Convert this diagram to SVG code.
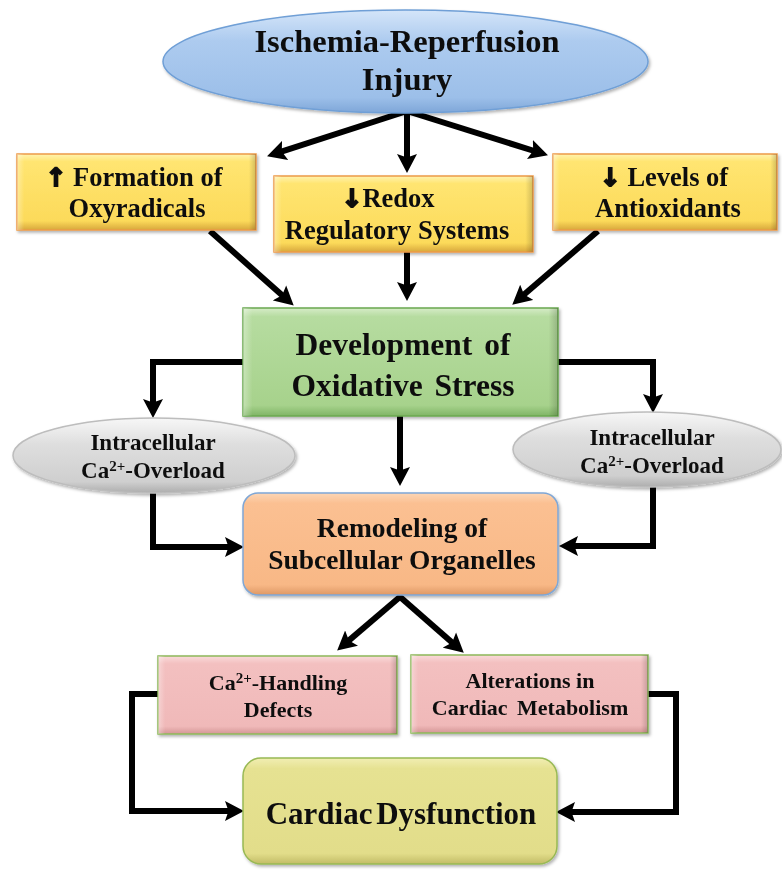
<svg xmlns="http://www.w3.org/2000/svg" width="782" height="870" viewBox="0 0 782 870">
<style>
  text{font-family:"Liberation Serif","Times New Roman",serif;font-weight:bold;fill:#111;text-anchor:middle}
  .arr{font-family:"DejaVu Sans",sans-serif;font-weight:bold;stroke:#111;stroke-width:1.8}
  .c{fill:none;stroke:#000;stroke-width:6;marker-end:url(#ah)}
  .e{fill:none;stroke:#000;stroke-width:6;stroke-linejoin:miter}
  .ov{fill:url(#side)}
</style>
<defs>
  <marker id="ah" viewBox="0 -10.5 19 21" refX="8" refY="0" markerWidth="19" markerHeight="21" markerUnits="userSpaceOnUse" orient="auto">
    <path d="M0,-10 L19,0 L0,10 L3.5,0 Z" fill="#000"/>
  </marker>
  <filter id="sh" x="-10%" y="-10%" width="125%" height="130%">
    <feDropShadow dx="1.5" dy="2" stdDeviation="1.5" flood-color="#000" flood-opacity="0.3"/>
  </filter>
  <linearGradient id="side" x1="0" y1="0" x2="1" y2="0">
    <stop offset="0" stop-color="#fff" stop-opacity="0.35"/>
    <stop offset="0.03" stop-color="#fff" stop-opacity="0"/>
    <stop offset="0.97" stop-color="#000" stop-opacity="0"/>
    <stop offset="1" stop-color="#000" stop-opacity="0.18"/>
  </linearGradient>
  <linearGradient id="gy" x1="0" y1="0" x2="0" y2="1">
    <stop offset="0" stop-color="#fff3b0"/><stop offset="0.1" stop-color="#ffe571"/>
    <stop offset="0.88" stop-color="#fcda5a"/><stop offset="1" stop-color="#d8a83c"/>
  </linearGradient>
  <linearGradient id="gg" x1="0" y1="0" x2="0" y2="1">
    <stop offset="0" stop-color="#d6ecc8"/><stop offset="0.08" stop-color="#b6dca0"/>
    <stop offset="0.9" stop-color="#a7d28c"/><stop offset="1" stop-color="#7fb566"/>
  </linearGradient>
  <linearGradient id="go" x1="0" y1="0" x2="0" y2="1">
    <stop offset="0" stop-color="#fcd6b6"/><stop offset="0.1" stop-color="#fbc092"/>
    <stop offset="0.9" stop-color="#f8b886"/><stop offset="1" stop-color="#de9865"/>
  </linearGradient>
  <linearGradient id="gp" x1="0" y1="0" x2="0" y2="1">
    <stop offset="0" stop-color="#fadada"/><stop offset="0.1" stop-color="#f3c0c0"/>
    <stop offset="0.9" stop-color="#f0b9b9"/><stop offset="1" stop-color="#d49797"/>
  </linearGradient>
  <linearGradient id="gc" x1="0" y1="0" x2="0" y2="1">
    <stop offset="0" stop-color="#f1eeb3"/><stop offset="0.1" stop-color="#e6e292"/>
    <stop offset="0.9" stop-color="#e2dd8a"/><stop offset="1" stop-color="#c2bc66"/>
  </linearGradient>
  <linearGradient id="gb" x1="0" y1="0" x2="0" y2="1">
    <stop offset="0" stop-color="#d4e5f9"/><stop offset="0.3" stop-color="#adcbef"/>
    <stop offset="0.85" stop-color="#9cbfe9"/><stop offset="1" stop-color="#7ea6d8"/>
  </linearGradient>
  <linearGradient id="gs" x1="0" y1="0" x2="0" y2="1">
    <stop offset="0" stop-color="#f7f7f7"/><stop offset="0.35" stop-color="#dedede"/>
    <stop offset="0.85" stop-color="#cfcfcf"/><stop offset="1" stop-color="#adadad"/>
  </linearGradient>
</defs>
<rect width="782" height="870" fill="#fff"/>

<g id="connectors">
  <line class="c" x1="404" y1="112" x2="277.5" y2="152.9"/>
  <line class="c" x1="407" y1="112" x2="407" y2="162"/>
  <line class="c" x1="410" y1="112" x2="537.5" y2="152"/>
  <line class="c" x1="210" y1="231" x2="285.5" y2="298.3"/>
  <line class="c" x1="407" y1="252" x2="407" y2="290"/>
  <line class="c" x1="598" y1="231" x2="520.6" y2="297.5"/>
  <path class="e" d="M243,362 H153 V407" marker-end="url(#ah)"/>
  <path class="e" d="M558,362 H653 V402" marker-end="url(#ah)"/>
  <line class="c" x1="400" y1="416" x2="400" y2="475"/>
  <path class="e" d="M153,493 V547 H233" marker-end="url(#ah)"/>
  <path class="e" d="M653,487 V546 H570" marker-end="url(#ah)"/>
  <line class="c" x1="401" y1="596" x2="345.5" y2="643.4"/>
  <line class="c" x1="399" y1="596" x2="455.5" y2="645.4"/>
  <path class="e" d="M158,694 H132 V811 H233" marker-end="url(#ah)"/>
  <path class="e" d="M648,694 H676 V812 H567" marker-end="url(#ah)"/>
</g>

<g id="ischemia" filter="url(#sh)">
  <ellipse cx="405.5" cy="61.5" rx="242.5" ry="51.5" fill="url(#gb)" stroke="#6f9fd6" stroke-width="1.5"/>
  <text x="407" y="52" font-size="32.5">Ischemia-Reperfusion</text>
  <text x="407" y="90" font-size="32.5">Injury</text>
</g>

<g id="oxyradicals" filter="url(#sh)">
  <rect x="17" y="154" width="239" height="76" fill="url(#gy)" stroke="#ed9b48" stroke-width="1.5"/>
  <rect x="17" y="154" width="239" height="76" class="ov"/>
  <text x="134" y="186" font-size="26.5"><tspan class="arr" font-size="25">↑</tspan> Formation of</text>
  <text x="137" y="217" font-size="26.5">Oxyradicals</text>
</g>

<g id="redox" filter="url(#sh)">
  <rect x="274" y="176" width="259" height="76" fill="url(#gy)" stroke="#ed9b48" stroke-width="1.5"/>
  <rect x="274" y="176" width="259" height="76" class="ov"/>
  <text x="388" y="207" font-size="26.5"><tspan class="arr" font-size="25">↓</tspan>Redox</text>
  <text x="397" y="239" font-size="26.5">Regulatory Systems</text>
</g>

<g id="antioxidants" filter="url(#sh)">
  <rect x="553" y="154" width="224" height="76" fill="url(#gy)" stroke="#ed9b48" stroke-width="1.5"/>
  <rect x="553" y="154" width="224" height="76" class="ov"/>
  <text x="664" y="186" font-size="26.5"><tspan class="arr" font-size="25">↓</tspan> Levels of</text>
  <text x="668" y="217" font-size="26.5">Antioxidants</text>
</g>

<g id="oxidative" filter="url(#sh)">
  <rect x="243" y="308" width="315" height="108" fill="url(#gg)" stroke="#6aa84f" stroke-width="1.5"/>
  <rect x="243" y="308" width="315" height="108" class="ov"/>
  <text x="403" y="355" font-size="31.5" word-spacing="4">Development of</text>
  <text x="403" y="396" font-size="31.5" word-spacing="4">Oxidative Stress</text>
</g>

<g id="calcium-left" filter="url(#sh)">
  <ellipse cx="154" cy="455.5" rx="141" ry="37.5" fill="url(#gs)" stroke="#bdbdbd" stroke-width="1.5"/>
  <text x="153" y="450" font-size="23">Intracellular</text>
  <text x="153" y="478" font-size="23">Ca<tspan font-size="15" dy="-7">2+</tspan><tspan dy="7">-Overload</tspan></text>
</g>

<g id="calcium-right" filter="url(#sh)">
  <ellipse cx="647" cy="449.5" rx="134" ry="37.5" fill="url(#gs)" stroke="#bdbdbd" stroke-width="1.5"/>
  <text x="652" y="445" font-size="23">Intracellular</text>
  <text x="652" y="473" font-size="23">Ca<tspan font-size="15" dy="-7">2+</tspan><tspan dy="7">-Overload</tspan></text>
</g>

<g id="remodeling" filter="url(#sh)">
  <rect x="243" y="493" width="315" height="102" rx="15" fill="url(#go)" stroke="#7fa7d6" stroke-width="1.5"/>
  <text x="402" y="537" font-size="27.5">Remodeling of</text>
  <text x="402" y="569" font-size="27.5">Subcellular Organelles</text>
</g>

<g id="handling" filter="url(#sh)">
  <rect x="158" y="656" width="239" height="78" fill="url(#gp)" stroke="#8db85a" stroke-width="1.5"/>
  <rect x="158" y="656" width="239" height="78" class="ov"/>
  <text x="278" y="690" font-size="22">Ca<tspan font-size="15" dy="-7">2+</tspan><tspan dy="7">-Handling</tspan></text>
  <text x="278" y="717" font-size="22">Defects</text>
</g>

<g id="metabolism" filter="url(#sh)">
  <rect x="411" y="655" width="237" height="78" fill="url(#gp)" stroke="#8db85a" stroke-width="1.5"/>
  <rect x="411" y="655" width="237" height="78" class="ov"/>
  <text x="530" y="688" font-size="22">Alterations in</text>
  <text x="530" y="715" font-size="22" word-spacing="4">Cardiac Metabolism</text>
</g>

<g id="dysfunction" filter="url(#sh)">
  <rect x="243" y="758" width="314" height="106" rx="18" fill="url(#gc)" stroke="#98b954" stroke-width="1.5"/>
  <text x="401" y="824" font-size="31" word-spacing="-4">Cardiac Dysfunction</text>
</g>
</svg>
